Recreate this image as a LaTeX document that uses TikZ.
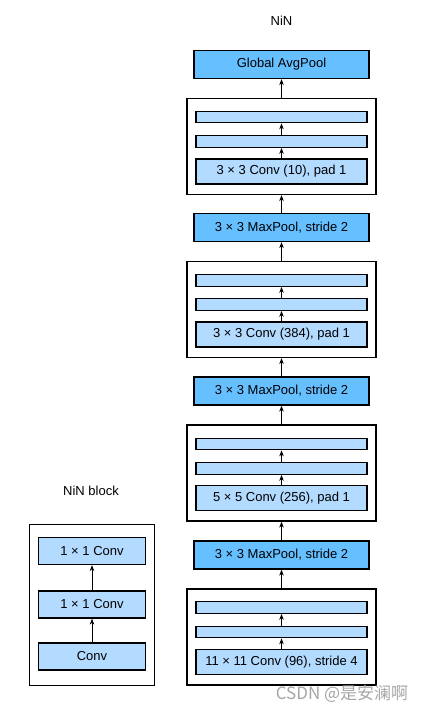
\documentclass[tikz,border=0pt]{standalone}
\usepackage{fontspec}
\setmainfont{Liberation Sans}
\newfontfamily\cjkfont{Noto Sans CJK SC}
\usepackage{xcolor}
\usetikzlibrary{arrows.meta}

\definecolor{poolblue}{HTML}{66BFFF}
\definecolor{convblue}{HTML}{B3DAFF}

\begin{document}
\begin{tikzpicture}[x=1pt, y=-1pt,
    title/.style={font=\fontsize{13}{15}\selectfont},
    poolbox/.style={rectangle, draw, line width=1.2pt, fill=poolblue, minimum width=175pt, minimum height=28pt, inner sep=0pt, font=\fontsize{13}{15}\selectfont},
    convbox/.style={rectangle, draw, line width=1.2pt, fill=convblue, minimum width=171pt, minimum height=25pt, inner sep=0pt, font=\fontsize{13}{15}\selectfont},
    barbox/.style={rectangle, draw, line width=1.2pt, fill=convblue, minimum width=171pt, minimum height=11.5pt, inner sep=0pt},
    blockbox/.style={rectangle, draw, line width=1.2pt, minimum width=189pt, minimum height=96pt, inner sep=0pt},
    smallbox/.style={rectangle, draw, line width=1.2pt, fill=convblue, minimum width=107pt, minimum height=27pt, inner sep=0pt, font=\fontsize{13}{15}\selectfont},
    arrow/.style={-{Stealth[length=6pt, width=4.5pt]}, line width=1pt}
]
    \useasboundingbox (0,0) rectangle (426,713);

    % Left side: NiN block
    \node[title] (blocktitle) at (91,491) {NiN block};
    \node[rectangle, draw, line width=1.2pt, minimum width=125pt, minimum height=161pt] (ninblock) at (92,605) {};
    \node[smallbox] (onebyone2) at (92,551) {1 × 1 Conv};
    \node[smallbox] (onebyone1) at (92,604.5) {1 × 1 Conv};
    \node[smallbox] (anyconv) at (92,656.5) {Conv};

    \draw[arrow] (anyconv) -- (onebyone1);
    \draw[arrow] (onebyone1) -- (onebyone2);

    % Right side: NiN
    \node[title] (nintitle) at (281.5,21) {NiN};
    \node[poolbox] (gap) at (281.5,64.5) {Global AvgPool};

    % Block 4
    \node[blockbox] (blk4) at (281.5,146.5) {};
    \node[barbox] (blk4b) at (281.5,117) {};
    \node[barbox] (blk4a) at (281.5,141.5) {};
    \node[convbox] (conv4) at (281.5,171.5) {3 × 3 Conv (10), pad 1};
    \node[poolbox] (pool3) at (281.5,227.5) {3 × 3 MaxPool, stride 2};

    % Block 3
    \node[blockbox] (blk3) at (281.5,309.5) {};
    \node[barbox] (blk3b) at (281.5,280.5) {};
    \node[barbox] (blk3a) at (281.5,304.5) {};
    \node[convbox] (conv3) at (281.5,334.5) {3 × 3 Conv (384), pad 1};
    \node[poolbox] (pool2) at (281.5,391) {3 × 3 MaxPool, stride 2};

    % Block 2
    \node[blockbox] (blk2) at (281.5,473) {};
    \node[barbox] (blk2b) at (281.5,444) {};
    \node[barbox] (blk2a) at (281.5,468.5) {};
    \node[convbox] (conv2) at (281.5,498) {5 × 5 Conv (256), pad 1};
    \node[poolbox] (pool1) at (281.5,555) {3 × 3 MaxPool, stride 2};

    % Block 1
    \node[blockbox] (blk1) at (281.5,637) {};
    \node[barbox] (blk1b) at (281.5,607.5) {};
    \node[barbox] (blk1a) at (281.5,632) {};
    \node[convbox] (conv1) at (281.5,662) {11 × 11 Conv (96), stride 4};

    \draw[arrow] (conv1) -- (blk1a);
    \draw[arrow] (blk1a) -- (blk1b);
    \draw[arrow] (blk1) -- (pool1);
    \draw[arrow] (pool1) -- (blk2);
    \draw[arrow] (conv2) -- (blk2a);
    \draw[arrow] (blk2a) -- (blk2b);
    \draw[arrow] (blk2) -- (pool2);
    \draw[arrow] (pool2) -- (blk3);
    \draw[arrow] (conv3) -- (blk3a);
    \draw[arrow] (blk3a) -- (blk3b);
    \draw[arrow] (blk3) -- (pool3);
    \draw[arrow] (pool3) -- (blk4);
    \draw[arrow] (conv4) -- (blk4a);
    \draw[arrow] (blk4a) -- (blk4b);
    \draw[arrow] (blk4) -- (gap);

    % Watermark
    \node[font=\cjkfont\fontsize{17}{19}\selectfont, text=black!35] (mark) at (342,694) {CSDN @是安澜啊};

\end{tikzpicture}
\end{document}
